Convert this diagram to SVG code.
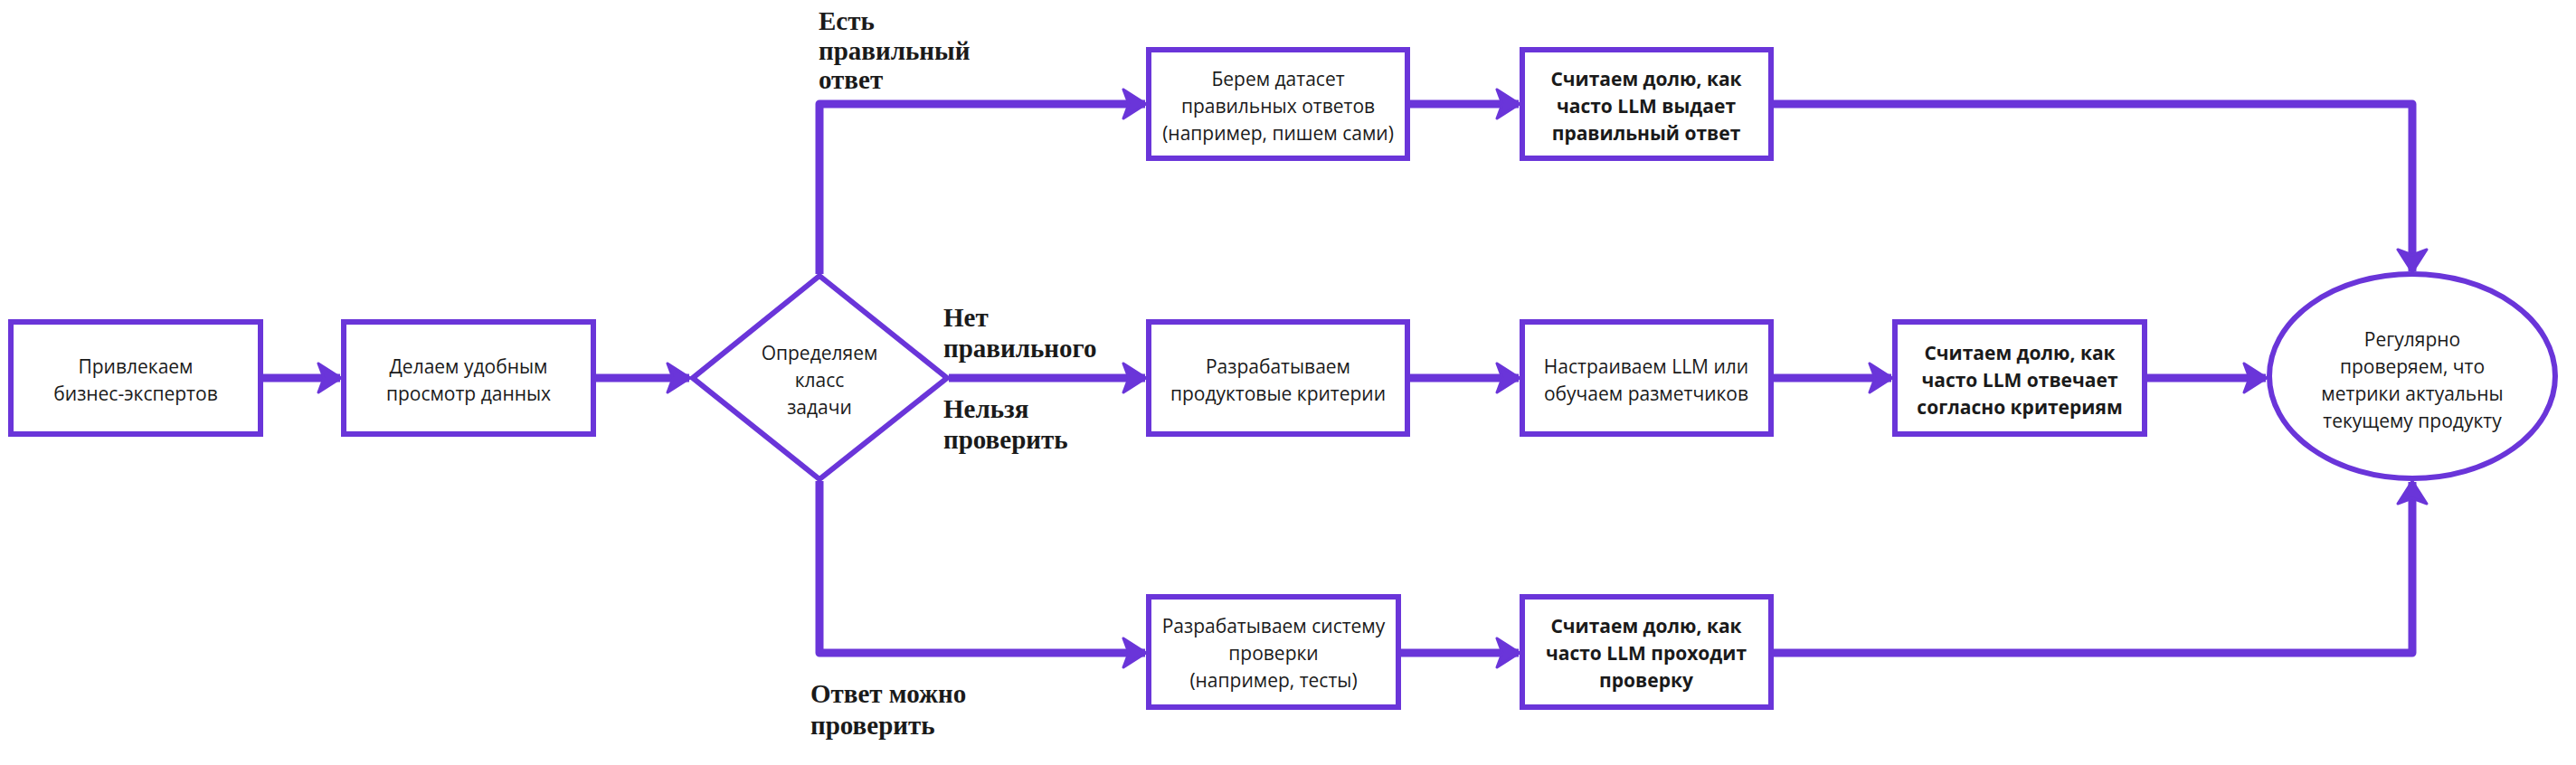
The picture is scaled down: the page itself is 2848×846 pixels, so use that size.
<svg xmlns="http://www.w3.org/2000/svg" width="2848" height="846" viewBox="0 0 2848 846">
<style>
.n{fill:#fff;stroke:#6A35D9;stroke-width:6}
.t{font-family:"Open Sans",sans-serif;font-size:21px;fill:#1a1a1a;text-anchor:middle}
.b{font-weight:bold}
.l{font-family:"Liberation Serif",serif;font-weight:bold;font-size:29px;fill:#1a1a1a}
.c{fill:none;stroke:#6A35D9;stroke-width:9;stroke-linejoin:round;stroke-linecap:butt}
</style>
<defs>
<marker id="a" markerUnits="userSpaceOnUse" markerWidth="30" markerHeight="36" refX="27" refY="18" orient="auto">
<path d="M3,2 L28,18 L3,34 L9,18 Z" fill="#6A35D9" stroke="#6A35D9" stroke-width="3" stroke-linejoin="round"/>
</marker>
</defs>
<g id="connectors">
<path class="c" d="M288,418 H376" marker-end="url(#a)"/>
<path class="c" d="M656,418 H762" marker-end="url(#a)"/>
<path class="c" d="M1049,418 H1266" marker-end="url(#a)"/>
<path class="c" d="M1556,418 H1679" marker-end="url(#a)"/>
<path class="c" d="M1958,418 H2091" marker-end="url(#a)"/>
<path class="c" d="M2371,418 H2505" marker-end="url(#a)"/>
<path class="c" d="M906,303 V115 H1266" marker-end="url(#a)"/>
<path class="c" d="M1556,115 H1679" marker-end="url(#a)"/>
<path class="c" d="M1958,115 H2667 V300" marker-end="url(#a)"/>
<path class="c" d="M906,532 V722 H1266" marker-end="url(#a)"/>
<path class="c" d="M1546,722 H1679" marker-end="url(#a)"/>
<path class="c" d="M1958,722 H2667 V533" marker-end="url(#a)"/>
</g>
<g id="n1"><rect class="n" x="12" y="356" width="276" height="124"/><text class="t" x="150" y="413">Привлекаем</text><text class="t" x="150" y="443">бизнес-экспертов</text></g>
<g id="n2"><rect class="n" x="380" y="356" width="276" height="124"/><text class="t" x="518" y="413">Делаем удобным</text><text class="t" x="518" y="443">просмотр данных</text></g>
<g id="n3"><polygon class="n" points="906,305 1047,418 906,530 766,418"/><text class="t" x="906" y="398">Определяем</text><text class="t" x="906" y="428">класс</text><text class="t" x="906" y="458">задачи</text></g>
<g id="n4"><rect class="n" x="1270" y="55" width="286" height="120"/><text class="t" x="1413" y="95">Берем датасет</text><text class="t" x="1413" y="125">правильных ответов</text><text class="t" x="1413" y="155">(например, пишем сами)</text></g>
<g id="n5"><rect class="n" x="1683" y="55" width="275" height="120"/><text class="t b" x="1820" y="95">Считаем долю, как</text><text class="t b" x="1820" y="125">часто LLM выдает</text><text class="t b" x="1820" y="155">правильный ответ</text></g>
<g id="n6"><rect class="n" x="1270" y="356" width="286" height="124"/><text class="t" x="1413" y="413">Разрабатываем</text><text class="t" x="1413" y="443">продуктовые критерии</text></g>
<g id="n7"><rect class="n" x="1683" y="356" width="275" height="124"/><text class="t" x="1820" y="413">Настраиваем LLM или</text><text class="t" x="1820" y="443">обучаем разметчиков</text></g>
<g id="n8"><rect class="n" x="2095" y="356" width="276" height="124"/><text class="t b" x="2233" y="398">Считаем долю, как</text><text class="t b" x="2233" y="428">часто LLM отвечает</text><text class="t b" x="2233" y="458">согласно критериям</text></g>
<g id="n9"><rect class="n" x="1270" y="660" width="276" height="122"/><text class="t" x="1408" y="700">Разрабатываем систему</text><text class="t" x="1408" y="730">проверки</text><text class="t" x="1408" y="760">(например, тесты)</text></g>
<g id="n10"><rect class="n" x="1683" y="660" width="275" height="122"/><text class="t b" x="1820" y="700">Считаем долю, как</text><text class="t b" x="1820" y="730">часто LLM проходит</text><text class="t b" x="1820" y="760">проверку</text></g>
<g id="n11"><ellipse class="n" cx="2667" cy="416" rx="158" ry="113"/><text class="t" x="2667" y="383">Регулярно</text><text class="t" x="2667" y="413">проверяем, что</text><text class="t" x="2667" y="443">метрики актуальны</text><text class="t" x="2667" y="473">текущему продукту</text></g>
<g id="labels">
<text class="l" x="905" y="33">Есть</text><text class="l" x="905" y="66">правильный</text><text class="l" x="905" y="98">ответ</text>
<text class="l" x="1043" y="361">Нет</text><text class="l" x="1043" y="395">правильного</text>
<text class="l" x="1043" y="462">Нельзя</text><text class="l" x="1043" y="496">проверить</text>
<text class="l" x="896" y="777">Ответ можно</text><text class="l" x="896" y="812">проверить</text>
</g>
</svg>
